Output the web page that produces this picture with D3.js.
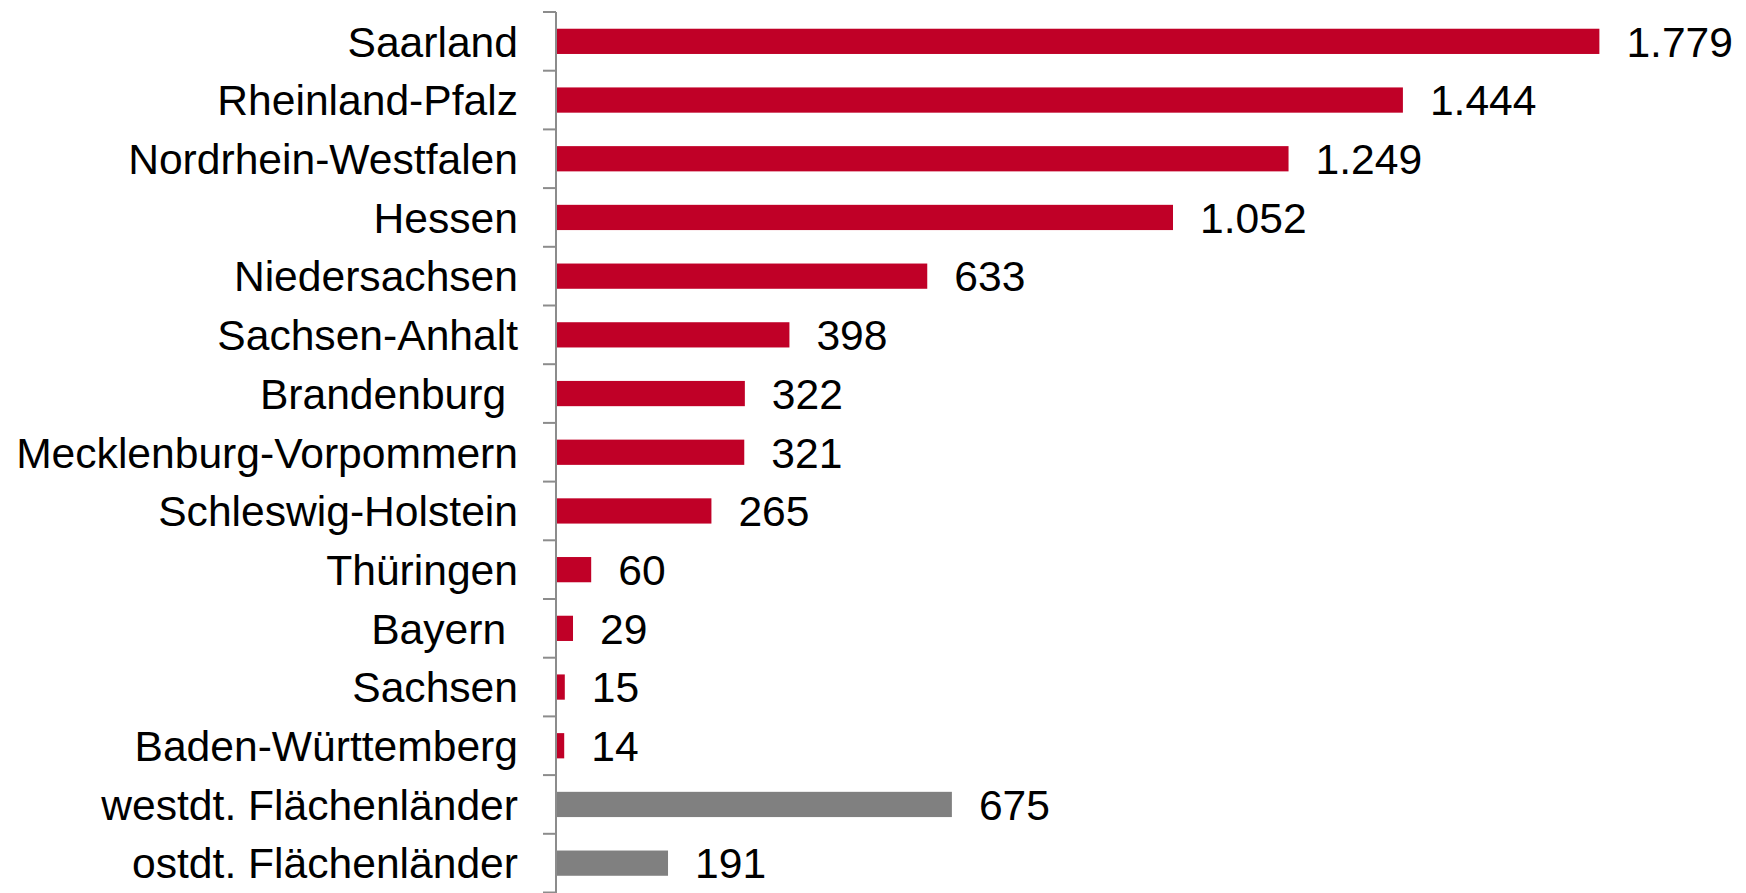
<!DOCTYPE html>
<html>
<head>
<meta charset="utf-8">
<script src="https://cdn.jsdelivr.net/npm/d3@7"></script>
<style>
  html, body { margin: 0; padding: 0; background: #fff; }
  svg { display: block; }
  text { font-family: "Liberation Sans", Arial, sans-serif; fill: #000; }
</style>
</head>
<body>
<svg id="chart" width="1746" height="893"></svg>
<script>
const categories = [
  "Saarland", "Rheinland-Pfalz", "Nordrhein-Westfalen", "Hessen", "Niedersachsen",
  "Sachsen-Anhalt", "Brandenburg ", "Mecklenburg-Vorpommern", "Schleswig-Holstein",
  "Thüringen", "Bayern ", "Sachsen", "Baden-Württemberg",
  "westdt. Flächenländer", "ostdt. Flächenländer"
];
const values = [1779, 1444, 1249, 1052, 633, 398, 322, 321, 265, 60, 29, 15, 14, 675, 191];
const valueLabels = ["1.779", "1.444", "1.249", "1.052", "633", "398", "322", "321", "265", "60", "29", "15", "14", "675", "191"];
const groups = ["land","land","land","land","land","land","land","land","land","land","land","land","land","avg","avg"];

const colors = { land: "#C00027", avg: "#808080" };
const data = categories.map((c, i) => ({ cat: c, value: values[i], label: valueLabels[i], group: groups[i] }));

const svg = d3.select("#chart");
const axisX = 556;
const yTop = 12, yBottom = 892.5;

const x = d3.scaleLinear().domain([0, 2000]).range([axisX, axisX + 1173]);
const y = d3.scaleBand().domain(categories).range([yTop, yBottom]).padding(0);
const barH = y.bandwidth() * 0.43;
const fontSize = 42.6;

// bars
svg.append("g").selectAll("rect").data(data).join("rect")
  .attr("x", x(0))
  .attr("y", d => y(d.cat) + y.bandwidth() / 2 - barH / 2)
  .attr("width", d => x(d.value) - x(0))
  .attr("height", barH)
  .attr("fill", d => colors[d.group]);

// axis line and boundary ticks
const ax = svg.append("g");
ax.append("line")
  .attr("x1", axisX).attr("x2", axisX)
  .attr("y1", yTop).attr("y2", 893)
  .attr("stroke", "#8c8c8c").attr("stroke-width", 2);
const bounds = categories.map(c => y(c)).concat([yBottom]);
ax.selectAll("line.tick").data(bounds).join("line")
  .attr("class", "tick")
  .attr("x1", axisX - 13).attr("x2", axisX)
  .attr("y1", d => d).attr("y2", d => d)
  .attr("stroke", "#8c8c8c").attr("stroke-width", 2);

// category labels
svg.append("g").selectAll("text").data(data).join("text")
  .attr("x", 518)
  .attr("y", d => y(d.cat) + y.bandwidth() / 2)
  .attr("dy", "0.36em")
  .attr("text-anchor", "end")
  .style("white-space", "pre")
  .attr("xml:space", "preserve")
  .style("font-size", fontSize + "px")
  .text(d => d.cat);

// value labels
svg.append("g").selectAll("text").data(data).join("text")
  .attr("x", d => x(d.value) + 27)
  .attr("y", d => y(d.cat) + y.bandwidth() / 2)
  .attr("dy", "0.36em")
  .style("font-size", fontSize + "px")
  .text(d => d.label);
</script>
</body>
</html>
